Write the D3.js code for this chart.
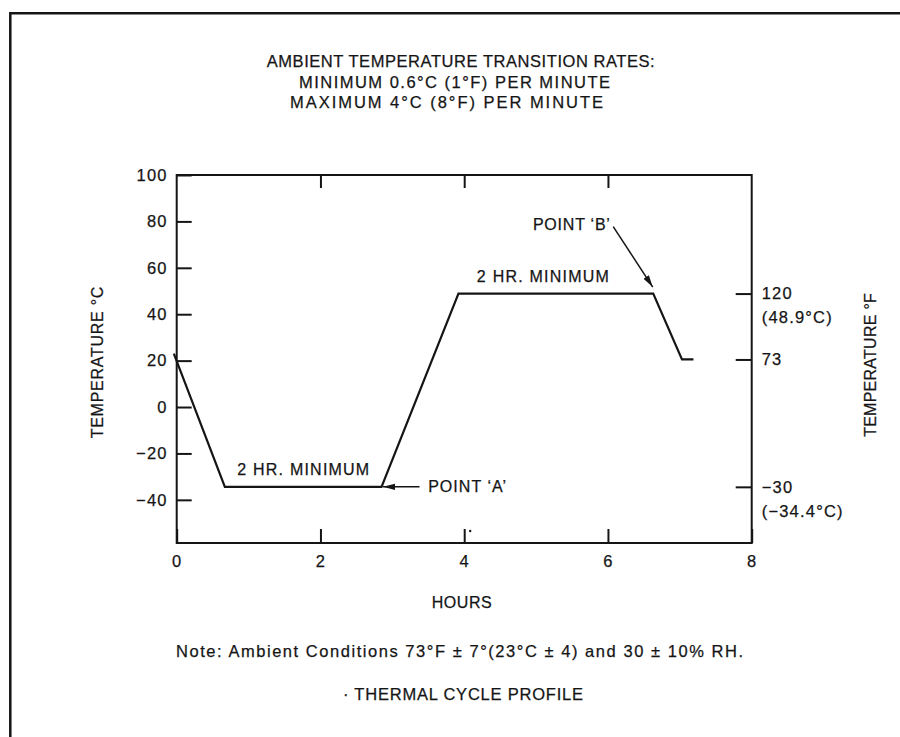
<!DOCTYPE html>
<html><head><meta charset="utf-8">
<script src="https://cdn.jsdelivr.net/npm/d3@7"></script>
<style>
body{margin:0;background:#fff}
svg{display:block}
text{font-family:"Liberation Sans",Arial,Helvetica,sans-serif;fill:#151515;stroke:#151515;stroke-width:0.25px}
</style>
</head><body><div id="chart"></div>
<script>
// ---- data ----
const titleLines = ["AMBIENT TEMPERATURE TRANSITION RATES:", "MINIMUM 0.6°C (1°F) PER MINUTE", "MAXIMUM 4°C (8°F) PER MINUTE"];
const hours  = [-0.04, 0.67, 2.85, 3.92, 6.63, 7.03, 7.19];
const tempC  = [23, -34.4, -34.4, 48.9, 48.9, 20.5, 20.5];
const xTicks = [0, 2, 4, 6, 8];
const yTicks = [100, 80, 60, 40, 20, 0, -20, -40];
const fTicks = [120, 73, -30];
const fTickCelsius = [48.9, 20.5, -34.4];
const fTickNotes = ["(48.9°C)", "", "(−34.4°C)"];
const plateauLabel = "2 HR. MINIMUM";
const pointLabels = ["POINT ‘A’", "POINT ‘B’"];
const xLabel = "HOURS";
const yLabelLeft = "TEMPERATURE °C";
const yLabelRight = "TEMPERATURE °F";
const noteText = "Note: Ambient Conditions 73°F ± 7°(23°C ± 4) and 30 ± 10% RH.";
const captionText = "· THERMAL CYCLE PROFILE";

const W = 900, H = 737;
const svg = d3.select("#chart").append("svg").attr("width", W).attr("height", H);
const ink = "#151515";

// page border (scan frame)
svg.append("path").attr("d", `M10.3,${H} V13.3 H${W}`).attr("fill", "none")
  .attr("stroke", ink).attr("stroke-width", 2.5);

// title
const titleX = [266.7, 299, 290], titleW = [388, 311, 313], titleY = [67, 87.5, 108];
svg.selectAll("text.title").data(titleLines).join("text").attr("class", "title")
  .attr("x", (d, i) => titleX[i]).attr("y", (d, i) => titleY[i])
  .attr("font-size", 16.5).attr("textLength", (d, i) => titleW[i]).attr("lengthAdjust", "spacing")
  .text(d => d);

// scales
const L = 176.7, R = 751.7, T = 175, B = 543;
const x = d3.scaleLinear().domain([0, 8]).range([L, R]);
const y = d3.scaleLinear().domain([-58.6, 100]).range([B, T]);
const yF = d3.scaleLinear().domain(fTicks).range(fTickCelsius.map(c => y(c)));

const g = svg.append("g");

function styleAxis(sel) {
  sel.select(".domain").remove();
  sel.selectAll(".tick line").attr("stroke", ink).attr("stroke-width", 2);
  sel.selectAll(".tick text").attr("fill", ink).style("font-size", "16.5px")
    .style("letter-spacing", "1.2px").style("font-family", '"Liberation Sans",Arial,sans-serif');
}

// left axis
g.append("g").attr("transform", `translate(${L},0)`)
  .call(d3.axisLeft(y).tickValues(yTicks).tickSizeInner(-15).tickSizeOuter(0).tickPadding(9))
  .call(styleAxis);

// bottom axis
g.append("g").attr("transform", `translate(0,${B})`)
  .call(d3.axisBottom(x).tickValues(xTicks).tickSizeInner(-14).tickSizeOuter(0).tickPadding(12))
  .call(styleAxis);

// top ticks
g.append("g").attr("transform", `translate(0,${T})`)
  .call(d3.axisTop(x).tickValues(xTicks.slice(1, -1)).tickSizeInner(-13).tickSizeOuter(0).tickFormat(""))
  .call(styleAxis);

// right axis (°F)
const rightAxis = g.append("g").attr("transform", `translate(${R},0)`)
  .call(d3.axisRight(yF).tickValues(fTicks).tickSizeInner(-16).tickSizeOuter(0).tickPadding(10)
    .tickFormat(d3.format("d")))
  .call(styleAxis);
rightAxis.selectAll(".tick").each(function (d) {
  const note = fTickNotes[fTicks.indexOf(d)];
  if (note) d3.select(this).append("text").attr("x", 10).attr("y", 24).attr("dy", "0.32em")
    .attr("fill", ink).style("font-size", "16.5px").style("letter-spacing", "1.2px").text(note);
});

// frame
g.append("rect").attr("x", L).attr("y", T).attr("width", R - L).attr("height", B - T)
  .attr("fill", "none").attr("stroke", ink).attr("stroke-width", 2);

// small scan mark near the 4-hour tick
g.append("circle").attr("cx", x(4) + 6).attr("cy", B - 12).attr("r", 1.2).attr("fill", ink);

// profile line
const pts = hours.map((h, i) => [h, tempC[i]]);
g.append("path").datum(pts)
  .attr("d", d3.line().x(d => x(d[0])).y(d => y(d[1])))
  .attr("fill", "none").attr("stroke", ink).attr("stroke-width", 2.2).attr("stroke-linejoin", "miter");

// arrow marker
svg.append("defs").append("marker").attr("id", "arr")
  .attr("markerUnits", "userSpaceOnUse").attr("viewBox", "0 0 12 8")
  .attr("markerWidth", 12).attr("markerHeight", 8).attr("refX", 12).attr("refY", 4)
  .attr("orient", "auto")
  .append("path").attr("d", "M0,0.8 L12,4 L0,7.2 Z").attr("fill", ink);

// plateau labels
const lowMid = (x(hours[1]) + x(hours[2])) / 2;
const highMid = (x(hours[3]) + x(hours[4])) / 2 - 13;
[[lowMid, y(tempC[1]) - 12], [highMid, y(tempC[3]) - 12]].forEach(p => {
  g.append("text").attr("x", p[0]).attr("y", p[1]).attr("text-anchor", "middle")
    .attr("font-size", 16).attr("textLength", 132).attr("lengthAdjust", "spacing").text(plateauLabel);
});

// Point A
const ax = x(hours[2]), ay = y(tempC[2]);
g.append("line").attr("x1", ax + 38).attr("y1", ay).attr("x2", ax + 1.5).attr("y2", ay)
  .attr("stroke", ink).attr("stroke-width", 1.5).attr("marker-end", "url(#arr)");
g.append("text").attr("x", ax + 46.6).attr("y", ay + 5.5).attr("font-size", 16)
  .attr("textLength", 78).attr("lengthAdjust", "spacing").text(pointLabels[0]);

// Point B
const bx = x(hours[4]), by = y(tempC[4]);
g.append("line").attr("x1", bx - 40).attr("y1", by - 67).attr("x2", bx - 0.5).attr("y2", by - 6.5)
  .attr("stroke", ink).attr("stroke-width", 1.5).attr("marker-end", "url(#arr)");
g.append("text").attr("x", bx - 120.3).attr("y", by - 63.5).attr("font-size", 16)
  .attr("textLength", 77).attr("lengthAdjust", "spacing").text(pointLabels[1]);

// axis titles
svg.append("text").attr("transform", "translate(97,362.5) rotate(-90)").attr("text-anchor", "middle")
  .attr("dy", "0.35em").attr("font-size", 16).attr("textLength", 151.7).attr("lengthAdjust", "spacing")
  .text(yLabelLeft);
svg.append("text").attr("transform", "translate(870,365) rotate(-90)").attr("text-anchor", "middle")
  .attr("dy", "0.35em").attr("font-size", 16).attr("textLength", 143.7).attr("lengthAdjust", "spacing")
  .text(yLabelRight);
svg.append("text").attr("x", 461.7).attr("y", 608).attr("text-anchor", "middle").attr("font-size", 16)
  .attr("textLength", 60).attr("lengthAdjust", "spacing").text(xLabel);

// note & caption
svg.append("text").attr("x", 176).attr("y", 657).attr("font-size", 16.5)
  .attr("textLength", 567).attr("lengthAdjust", "spacing").text(noteText);
svg.append("text").attr("x", 343).attr("y", 700).attr("font-size", 16.5)
  .attr("textLength", 240).attr("lengthAdjust", "spacing").text(captionText);
</script>
</body></html>
